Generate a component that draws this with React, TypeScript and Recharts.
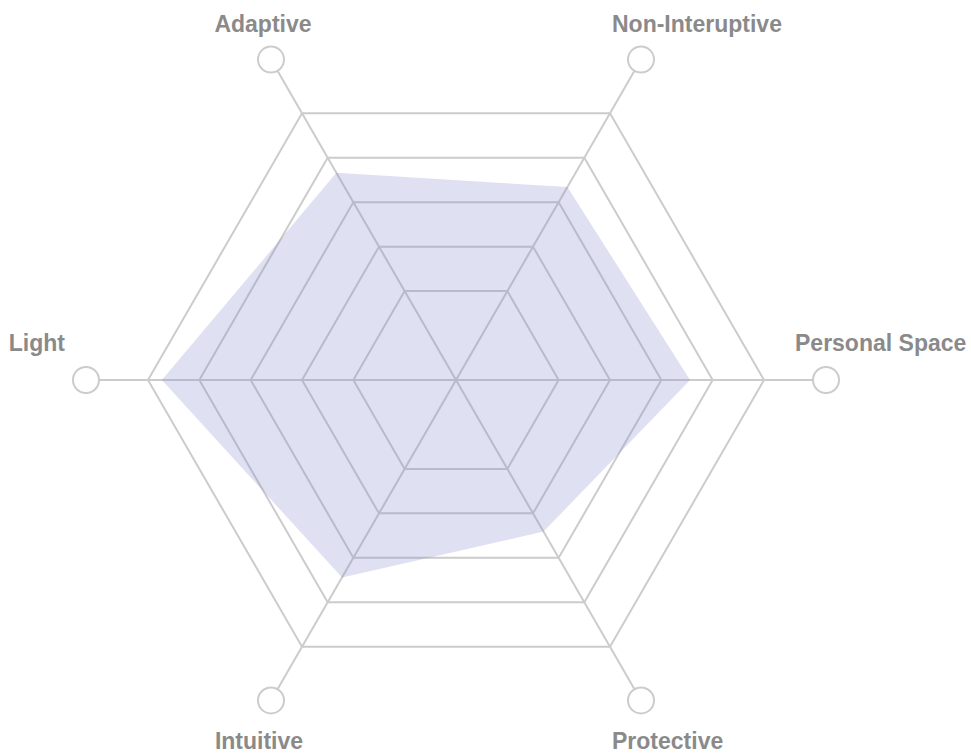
import { PolarAngleAxis, PolarGrid, PolarRadiusAxis, Radar, RadarChart } from 'recharts'

// traits, clockwise starting from the right-hand axis
const traits = ['Personal Space', 'Protective', 'Intuitive', 'Light', 'Adaptive', 'Non-Interuptive']
const scores = [4.56, 3.41, 4.44, 5.73, 4.66, 4.34]
const gridTicks = [2, 3, 4, 5, 6]

const data = traits.map((trait, i) => ({ trait, score: scores[i] }))

// where each label sits relative to its end-of-axis circle
const labelPlacement: { anchor: 'start' | 'middle' | 'end'; dx: number; dy: number }[] = [
  { anchor: 'start', dx: -31, dy: -29 },
  { anchor: 'start', dx: -29, dy: 49 },
  { anchor: 'middle', dx: -12, dy: 49 },
  { anchor: 'end', dx: -21, dy: -29 },
  { anchor: 'middle', dx: -8, dy: -28 },
  { anchor: 'start', dx: -29, dy: -28 },
]

const AxisTick = (props: any) => {
  const { x, y, index, payload } = props
  const p = labelPlacement[index] ?? { anchor: 'middle', dx: 0, dy: 0 }
  return (
    <g>
      <circle cx={x} cy={y} r={13} fill="#ffffff" stroke="#cccccc" strokeWidth={2} />
      <text
        x={x + p.dx}
        y={y + p.dy}
        textAnchor={p.anchor}
        fill="#8a8a8a"
        fontSize={23}
        fontWeight={600}
        fontFamily="'Liberation Sans', Arial, sans-serif"
      >
        {payload.value}
      </text>
    </g>
  )
}

export default function App() {
  return (
    <>
      <style>{'body { margin: 0; }'}</style>
      <RadarChart
        width={971}
        height={753}
        data={data}
        cx={456}
        cy={380}
        outerRadius={308}
        startAngle={0}
        endAngle={-360}
        margin={{ top: 0, right: 0, bottom: 0, left: 0 }}
      >
        <PolarGrid gridType="polygon" stroke="#cccccc" strokeWidth={2} />
        <PolarRadiusAxis domain={[0, 6]} ticks={gridTicks as any} tick={false} axisLine={false} />
        <PolarAngleAxis
          dataKey="trait"
          tickSize={62}
          axisLine={false}
          tickLine={{ stroke: '#cccccc', strokeWidth: 2 }}
          tick={<AxisTick />}
        />
        <Radar dataKey="score" stroke="none" fill="#8085c8" fillOpacity={0.25} isAnimationActive={false} />
      </RadarChart>
    </>
  )
}
